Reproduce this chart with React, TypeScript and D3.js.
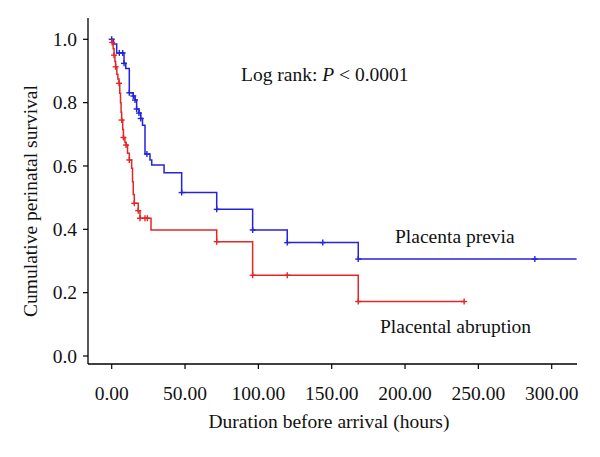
import React from "react";
import * as d3 from "d3";

// Placenta previa (blue): [time (h), survival after step]
const previaTimes = [0, 1.2, 3.4, 8.4, 9.6, 12, 14.7, 15.9, 17, 18.6, 19.8, 21, 22.7, 26.1, 27.3, 35.7, 47.7, 71.6, 96.1, 119.7, 168.1];
const previaSurv = [1.0, 0.985, 0.957, 0.924, 0.908, 0.831, 0.821, 0.808, 0.78, 0.767, 0.75, 0.729, 0.638, 0.619, 0.603, 0.579, 0.516, 0.463, 0.398, 0.358, 0.306];
const previaEnd = 317;
const previaCensor = [0, 5.2, 7.5, 8.4, 12, 14.7, 15.9, 17, 18.6, 19.8, 24, 47.7, 71.6, 96.1, 119.7, 143.9, 168.1, 288.5];

// Placental abruption (red)
const abruptionTimes = [0, 0.3, 1, 1.6, 2.2, 2.7, 3.5, 4.2, 5, 5.5, 6, 6.4, 6.8, 7.5, 8, 9, 9.8, 10.8, 12, 13.6, 14.2, 14.7, 15.4, 18.1, 19.3, 26.8, 71.6, 96.1, 168.1];
const abruptionSurv = [1.0, 0.99, 0.97, 0.95, 0.93, 0.913, 0.89, 0.875, 0.861, 0.83, 0.8, 0.77, 0.745, 0.715, 0.69, 0.675, 0.666, 0.64, 0.619, 0.593, 0.55, 0.51, 0.482, 0.459, 0.435, 0.398, 0.361, 0.255, 0.172];
const abruptionEnd = 240.3;
const abruptionCensor = [0.3, 1.6, 2.7, 5, 6.8, 8, 9.8, 12, 15.4, 18.1, 19.3, 22.7, 24.3, 71.6, 96.1, 119.7, 168.1, 240.3];

const xTicks = [0, 50, 100, 150, 200, 250, 300];
const yTicks = [0, 0.2, 0.4, 0.6, 0.8, 1.0];

const BLUE = "#2424dc";
const RED = "#e42626";
const FONT = "'Liberation Serif', 'Times New Roman', serif";
const FS = 19.5;

export default function App() {
  const x = d3.scaleLinear().domain([0, 300]).range([111.7, 551.7]);
  const y = d3.scaleLinear().domain([0, 1]).range([356, 39.3]);
  const xAxisY = 364;
  const yAxisX = 88;
  const xAxisEnd = 577;
  const yAxisTop = 18;

  const line = d3
    .line<[number, number]>()
    .x((d) => x(d[0]))
    .y((d) => y(d[1]))
    .curve(d3.curveStepAfter);

  const series = [
    { times: previaTimes, surv: previaSurv, end: previaEnd, censor: previaCensor, color: BLUE },
    { times: abruptionTimes, surv: abruptionSurv, end: abruptionEnd, censor: abruptionCensor, color: RED },
  ];

  const survAt = (times: number[], surv: number[], t: number) => {
    let s = surv[0];
    for (let i = 0; i < times.length; i++) if (times[i] <= t + 1e-9) s = surv[i];
    return s;
  };

  return (
    <svg width={600} height={457} style={{ position: "absolute", left: 0, top: 0, background: "#fff" }}>
      {/* axes */}
      <line x1={yAxisX} y1={yAxisTop} x2={yAxisX} y2={xAxisY} stroke="#000" strokeWidth={1.3} />
      <line x1={yAxisX} y1={xAxisY} x2={xAxisEnd} y2={xAxisY} stroke="#000" strokeWidth={1.3} />
      {yTicks.map((t) => (
        <g key={"y" + t}>
          <line x1={yAxisX - 5} x2={yAxisX} y1={y(t)} y2={y(t)} stroke="#000" strokeWidth={1.2} />
          <text x={77} y={y(t)} dy="0.35em" textAnchor="end" fontFamily={FONT} fontSize={FS} fill="#111">
            {t.toFixed(1)}
          </text>
        </g>
      ))}
      {xTicks.map((t) => (
        <g key={"x" + t}>
          <line x1={x(t)} x2={x(t)} y1={xAxisY} y2={xAxisY + 5} stroke="#000" strokeWidth={1.2} />
          <text x={x(t)} y={400} textAnchor="middle" fontFamily={FONT} fontSize={FS} fill="#111">
            {t.toFixed(2)}
          </text>
        </g>
      ))}
      <text x={329} y={428} textAnchor="middle" fontFamily={FONT} fontSize={FS} fill="#111">
        Duration before arrival (hours)
      </text>
      <text
        transform="translate(37,201) rotate(-90)"
        textAnchor="middle"
        fontFamily={FONT}
        fontSize={FS}
        fill="#111"
      >
        Cumulative perinatal survival
      </text>

      {/* curves */}
      {series.map((s, i) => {
        const pts: [number, number][] = s.times.map((t, j) => [t, s.surv[j]] as [number, number]);
        pts.push([s.end, s.surv[s.surv.length - 1]]);
        return (
          <g key={"s" + i}>
            <path d={line(pts) || ""} fill="none" stroke={s.color} strokeWidth={1.5} />
            {s.censor.map((c, k) => {
              const cx = x(c);
              const cy = y(survAt(s.times, s.surv, c));
              return (
                <g key={k} stroke={s.color} strokeWidth={1.4}>
                  <line x1={cx - 3} x2={cx + 3} y1={cy} y2={cy} />
                  <line x1={cx} x2={cx} y1={cy - 3} y2={cy + 3} />
                </g>
              );
            })}
          </g>
        );
      })}

      {/* annotations */}
      <text x={241} y={81} fontFamily={FONT} fontSize={FS} fill="#111">
        Log rank: <tspan fontStyle="italic">P</tspan> {"<"} 0.0001
      </text>
      <text x={395} y={243} fontFamily={FONT} fontSize={FS} fill="#111">
        Placenta previa
      </text>
      <text x={380} y={333} fontFamily={FONT} fontSize={FS} fill="#111">
        Placental abruption
      </text>
    </svg>
  );
}
